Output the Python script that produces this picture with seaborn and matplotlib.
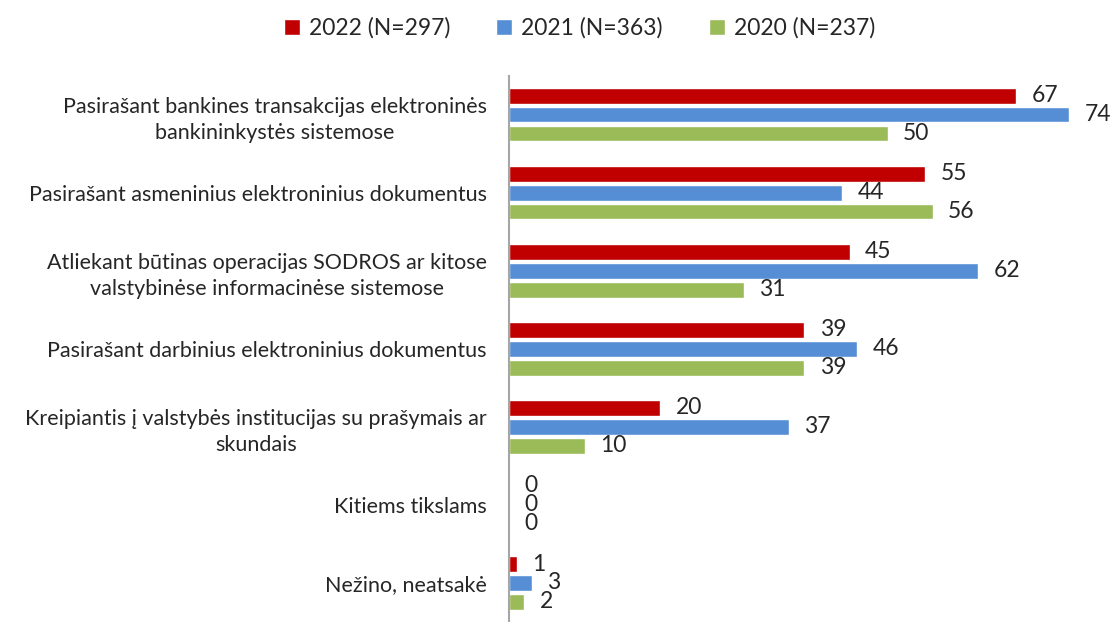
import pandas as pd
import matplotlib.pyplot as plt
import seaborn as sns

# Chart data
categories = [
    'Pasirašant bankines transakcijas elektroninės\nbankininkystės sistemose',
    'Pasirašant asmeninius elektroninius dokumentus',
    'Atliekant būtinas operacijas SODROS ar kitose\nvalstybinėse informacinėse sistemose',
    'Pasirašant darbinius elektroninius dokumentus',
    'Kreipiantis į valstybės institucijas su prašymais ar\nskundais',
    'Kitiems tikslams',
    'Nežino, neatsakė',
]
series_names = ['2022 (N=297)', '2021 (N=363)', '2020 (N=237)']
values_2022 = [67, 55, 45, 39, 20, 0, 1]
values_2021 = [74, 44, 62, 46, 37, 0, 3]
values_2020 = [50, 56, 31, 39, 10, 0, 2]
colors = ['#C00000', '#558ED5', '#9BBB59']

df = pd.DataFrame({
    'category': categories * 3,
    'series': [s for s in series_names for _ in categories],
    'value': values_2022 + values_2021 + values_2020,
})

sns.set_style('white')
plt.rcParams['font.family'] = ['Lato', 'DejaVu Sans']

fig = plt.figure(figsize=(11.14, 6.22), dpi=100)
ax = fig.add_axes([0.457, 0.0, 0.53, 0.878])

sns.barplot(data=df, y='category', x='value', hue='series', order=categories,
            hue_order=series_names, palette=colors, saturation=1, orient='h',
            width=0.73, gap=0.2, ax=ax, legend=True)

for container in ax.containers:
    ax.bar_label(container, fmt='%d', padding=11, fontsize=16.5)

ax.set_xlim(0, 78)
ax.set_xlabel('')
ax.set_ylabel('')
ax.set_xticks([])
ax.tick_params(axis='y', length=0, labelsize=15.5, pad=16)
for lbl in ax.get_yticklabels():
    lbl.set_horizontalalignment('right')
    lbl.set_multialignment('center')
    lbl.set_linespacing(1.4)

for side in ['top', 'right', 'bottom']:
    ax.spines[side].set_visible(False)
ax.spines['left'].set_color('#A6A6A6')
ax.spines['left'].set_linewidth(1.5)

handles, labels = ax.get_legend_handles_labels()
ax.legend_.remove()
fig.legend(handles, labels, loc='upper center', bbox_to_anchor=(0.52, 1.005),
           ncol=3, frameon=False, fontsize=16.5, handlelength=0.7, handleheight=0.7,
           handletextpad=0.4, columnspacing=2.0)

fig.savefig('out.png', dpi=100)
